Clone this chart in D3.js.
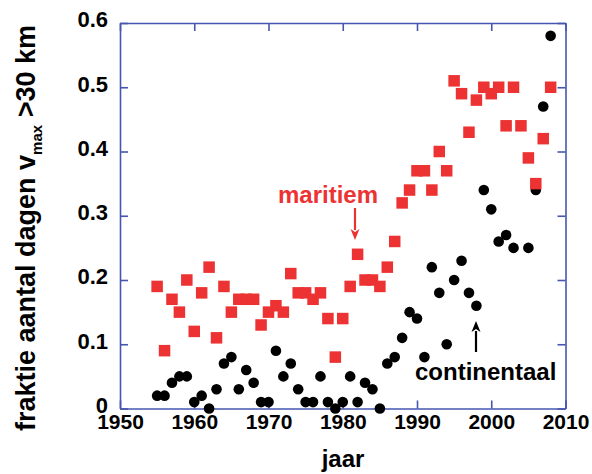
<!DOCTYPE html>
<html>
<head>
<meta charset="utf-8">
<script src="https://cdn.jsdelivr.net/npm/d3@7/dist/d3.min.js"></script>
<style>
  html, body { margin: 0; padding: 0; background: #fff; }
  svg { display: block; }
  text { font-family: "Liberation Sans", Arial, Helvetica, sans-serif; font-weight: bold; }
</style>
</head>
<body>
<svg id="chart" width="592" height="474"></svg>
<script>
// ---- data ----
const years = d3.range(1955, 2009);
const maritiem = [
  0.19, 0.09, 0.17, 0.15, 0.20, 0.12, 0.18, 0.22, 0.11, 0.19,
  0.15, 0.17, 0.17, 0.17, 0.13, 0.15, 0.16, 0.15, 0.21, 0.18,
  0.18, 0.17, 0.18, 0.14, 0.08, 0.14, 0.19, 0.24, 0.20, 0.20,
  0.19, 0.22, 0.26, 0.32, 0.34, 0.37, 0.37, 0.34, 0.40, 0.37,
  0.51, 0.49, 0.43, 0.48, 0.50, 0.49, 0.50, 0.44, 0.50, 0.44,
  0.39, 0.35, 0.42, 0.50
];
const continentaal = [
  0.02, 0.02, 0.04, 0.05, 0.05, 0.01, 0.02, 0.00, 0.03, 0.07,
  0.08, 0.03, 0.06, 0.04, 0.01, 0.01, 0.09, 0.05, 0.07, 0.03,
  0.01, 0.01, 0.05, 0.01, 0.00, 0.01, 0.05, 0.01, 0.04, 0.03,
  0.00, 0.07, 0.08, 0.11, 0.15, 0.14, 0.08, 0.22, 0.18, 0.10,
  0.20, 0.23, 0.18, 0.16, 0.34, 0.31, 0.26, 0.27, 0.25, null,
  0.25, 0.34, 0.47, 0.58
];
const xTicks = [1950, 1960, 1970, 1980, 1990, 2000, 2010];
const yTicks = [0, 0.1, 0.2, 0.3, 0.4, 0.5, 0.6];
const yTickLabels = ["0", "0.1", "0.2", "0.3", "0.4", "0.5", "0.6"];

// ---- layout ----
const svg = d3.select("#chart");
const L = 120, R = 565.5, T = 23, B = 408.5;
const axisColor = "#4656b0";
const red = "#ec3232";

const x = d3.scaleLinear().domain([1950, 2010]).range([L, R]);
const y = d3.scaleLinear().domain([0, 0.6]).range([B, T]);

function styleAxis(g) {
  g.selectAll("path.domain").attr("stroke", axisColor).attr("stroke-width", 1.6);
  g.selectAll(".tick line").attr("stroke", axisColor).attr("stroke-width", 1.6);
}

// bottom axis
const gB = svg.append("g").attr("transform", `translate(0,${B})`)
  .call(d3.axisBottom(x).tickValues(xTicks).tickFormat(d3.format("d"))
    .tickSizeInner(-8).tickSizeOuter(0).tickPadding(6));
styleAxis(gB);
gB.selectAll("text").attr("font-size", 21).attr("fill", "#000")
  .attr("font-family", "Liberation Sans, Arial, sans-serif").attr("font-weight", "bold");

// top axis
const gT = svg.append("g").attr("transform", `translate(0,${T})`)
  .call(d3.axisTop(x).tickValues(xTicks).tickFormat("")
    .tickSizeInner(-8).tickSizeOuter(0));
styleAxis(gT);

// left axis
const gL = svg.append("g").attr("transform", `translate(${L},0)`)
  .call(d3.axisLeft(y).tickValues(yTicks).tickFormat((d, i) => yTickLabels[i])
    .tickSizeInner(-8).tickSizeOuter(0).tickPadding(12));
styleAxis(gL);
gL.selectAll("text").attr("font-size", 22).attr("fill", "#000").attr("dy", "0.18em")
  .attr("font-family", "Liberation Sans, Arial, sans-serif").attr("font-weight", "bold");

// right axis
const gR = svg.append("g").attr("transform", `translate(${R},0)`)
  .call(d3.axisRight(y).tickValues(yTicks).tickFormat("")
    .tickSizeInner(-8).tickSizeOuter(0));
styleAxis(gR);

// ---- points ----
const contData = years.map((yr, i) => ({ yr, v: continentaal[i] })).filter(d => d.v !== null);
const marData = years.map((yr, i) => ({ yr, v: maritiem[i] })).filter(d => d.v !== null);

svg.append("g").selectAll("circle").data(contData).join("circle")
  .attr("cx", d => x(d.yr)).attr("cy", d => y(d.v)).attr("r", 5.3)
  .attr("fill", "#000");

const S = 11.5;
svg.append("g").selectAll("rect").data(marData).join("rect")
  .attr("x", d => x(d.yr) - S / 2).attr("y", d => y(d.v) - S / 2)
  .attr("width", S).attr("height", S).attr("fill", red);

// ---- annotations ----
svg.append("text").attr("x", 278).attr("y", 203).attr("font-size", 24)
  .attr("fill", red).text("maritiem");
function arrow(xp, y0, y1, color) {
  const dir = y1 > y0 ? 1 : -1;
  const head = 11, hw = 4.5;
  svg.append("line").attr("x1", xp).attr("x2", xp).attr("y1", y0).attr("y2", y1 - dir * head + dir * 1)
    .attr("stroke", color).attr("stroke-width", 2.2);
  svg.append("path")
    .attr("d", `M${xp},${y1} L${xp - hw},${y1 - dir * head} L${xp},${y1 - dir * (head - 3)} L${xp + hw},${y1 - dir * head} Z`)
    .attr("fill", color);
}
arrow(355, 208, 240, red);

svg.append("text").attr("x", 415).attr("y", 380).attr("font-size", 24)
  .attr("fill", "#000").text("continentaal");
arrow(476, 352, 321, "#000");

// ---- axis titles ----
svg.append("text").attr("x", 343).attr("y", 467).attr("text-anchor", "middle")
  .attr("font-size", 24).attr("fill", "#000").text("jaar");

const yl = svg.append("text").attr("transform", "translate(35,431) rotate(-90)")
  .attr("font-size", 27).attr("fill", "#000");
yl.append("tspan").text("fraktie aantal dagen v");
yl.append("tspan").attr("font-size", 15).attr("dy", 7).text("max");
yl.append("tspan").attr("dy", -7).text(" >30 km");
</script>
</body>
</html>
